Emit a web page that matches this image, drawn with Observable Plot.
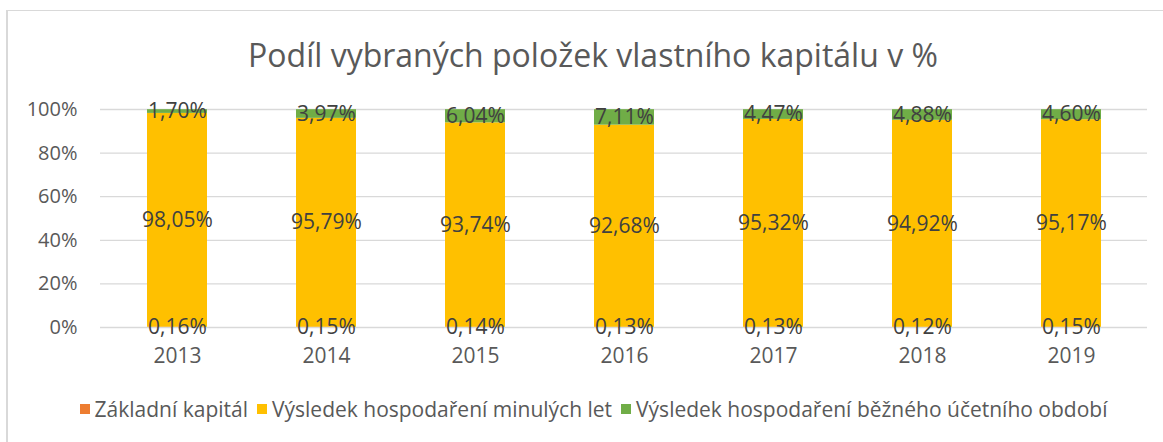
<!DOCTYPE html>
<html>
<head>
<meta charset="utf-8">
<script src="https://cdn.jsdelivr.net/npm/d3@7"></script>
<script src="https://cdn.jsdelivr.net/npm/@observablehq/plot@0.6"></script>
<style>
  body { margin: 0; background: #fff; font-family: "Open Sans", sans-serif; }
  #frame { position: absolute; left: 6px; top: 10px; width: 1170px; height: 450px;
           border-left: 2px solid #d9d9d9; border-top: 1px solid #d9d9d9; box-sizing: border-box; }
  #title { position: absolute; left: 0; top: 33px; width: 1186px; text-align: center;
           font-size: 32px; color: #595959; white-space: nowrap; }
  #chart { position: absolute; left: 0; top: 80px; }
  #legend { position: absolute; left: 0; top: 395px; width: 1196px; display: flex; justify-content: center;
            align-items: center; font-size: 21px; color: #595959; white-space: nowrap; }
  .sw { display: inline-block; width: 10px; height: 10px; margin-right: 5px; }
  .item { display: inline-flex; align-items: center; margin-right: 9px; }
</style>
</head>
<body>
<div id="frame"></div>
<div id="title">Podíl vybraných položek vlastního kapitálu v %</div>
<div id="chart"></div>
<div id="legend"></div>
<script>
const years = ["2013", "2014", "2015", "2016", "2017", "2018", "2019"];
const seriesNames = ["Základní kapitál", "Výsledek hospodaření minulých let", "Výsledek hospodaření běžného účetního období"];
const zakladniKapital = [0.16, 0.15, 0.14, 0.13, 0.13, 0.12, 0.15];
const vysledekMinulych = [98.05, 95.79, 93.74, 92.68, 95.32, 94.92, 95.17];
const vysledekBezneho = [1.70, 3.97, 6.04, 7.11, 4.47, 4.88, 4.60];
const seriesColors = ["#ED7D31", "#FFC000", "#70AD47"];
const yTicks = [0, 20, 40, 60, 80, 100];

const seriesValues = [zakladniKapital, vysledekMinulych, vysledekBezneho];
const rows = [];
seriesNames.forEach((s, si) => {
  years.forEach((yr, i) => rows.push({ year: yr, series: s, value: seriesValues[si][i] }));
});
const fmt = v => v.toFixed(2).replace(".", ",") + "%";

const chart = Plot.plot({
  width: 1163,
  height: 290,
  marginLeft: 100,
  marginRight: 16,
  marginTop: 29,
  marginBottom: 43,
  style: { fontFamily: "Open Sans, sans-serif", fontSize: "20px", color: "#595959", background: "transparent" },
  x: { domain: years, paddingInner: 0.6, paddingOuter: 0.3, label: null },
  y: { domain: [0, 100], label: null },
  color: { domain: seriesNames, range: seriesColors },
  marks: [
    Plot.ruleY(yTicks, { stroke: "#d9d9d9", strokeWidth: 1.3 }),
    Plot.axisY(yTicks, { tickFormat: d => d + "%", tickSize: 0, tickPadding: 23, fontSize: 20, fill: "#595959", label: null }),
    Plot.axisX({ tickSize: 0, tickPadding: 21, fontSize: 21, fill: "#595959", label: null }),
    Plot.barY(rows, Plot.stackY({ x: "year", y: "value", fill: "series", order: seriesNames })),
    Plot.text(rows, Plot.stackY({ x: "year", y: "value", z: "series", order: seriesNames, text: d => fmt(d.value),
      fill: "#404040", fontSize: 21 }))
  ]
});
document.getElementById("chart").appendChild(chart);

const legend = document.getElementById("legend");
seriesNames.forEach((s, i) => {
  const item = document.createElement("span");
  item.className = "item";
  const sw = document.createElement("span");
  sw.className = "sw";
  sw.style.background = seriesColors[i];
  item.appendChild(sw);
  item.appendChild(document.createTextNode(s));
  legend.appendChild(item);
});
</script>
</body>
</html>
